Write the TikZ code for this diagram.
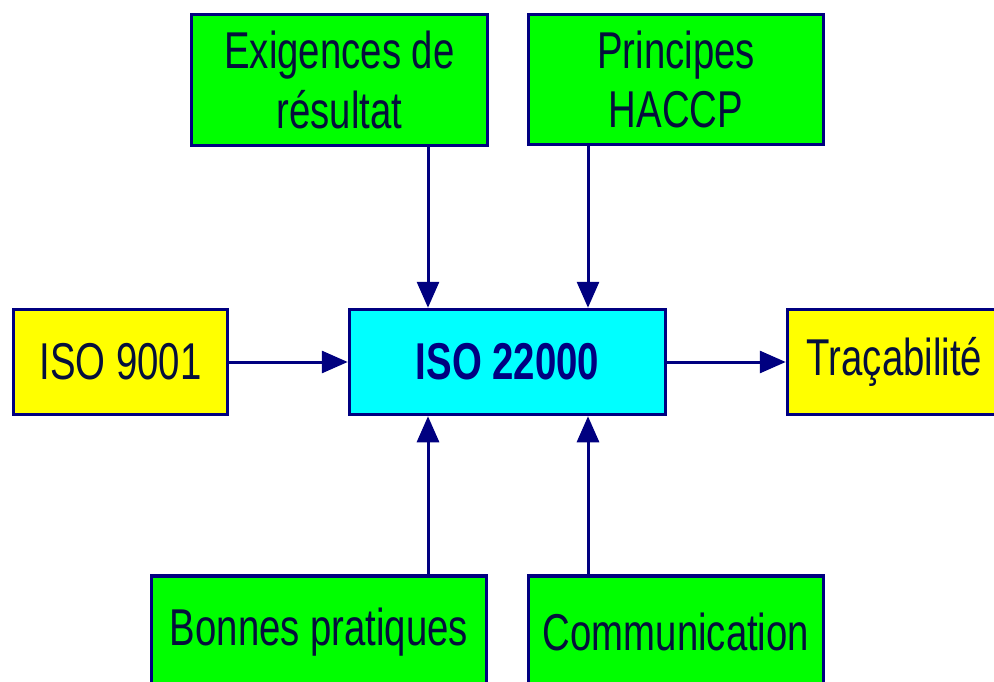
\documentclass[tikz,border=0pt]{standalone}
\usepackage{fontspec}
\setmainfont{Liberation Sans}[FakeStretch=0.74]
\usetikzlibrary{arrows.meta}
\definecolor{navyline}{RGB}{0,0,128}
\definecolor{txtcol}{RGB}{5,15,60}
\definecolor{boxgreen}{RGB}{0,255,0}
\definecolor{boxyellow}{RGB}{255,255,0}
\definecolor{boxcyan}{RGB}{0,255,255}
\tikzset{
  box/.style={draw=navyline, line width=3.5bp, rectangle, inner sep=0pt, align=center,
    text=txtcol, font=\fontsize{52}{60}\selectfont},
  greenbox/.style={box, fill=boxgreen},
  yellowbox/.style={box, fill=boxyellow},
  cyanbox/.style={box, fill=boxcyan},
  arr/.style={draw=navyline, line width=3bp, -{Triangle[length=26bp,width=22bp]}}
}
\begin{document}
\begin{tikzpicture}[x=1bp,y=-1bp]
\useasboundingbox (0,0) rectangle (994,682);
\clip (0,0) rectangle (994,682);
\fill[white] (0,0) rectangle (994,682);
\node[greenbox, minimum width=296bp, minimum height=131bp] (ex) at (339.5,80) {Exigences de\\résultat};
\node[greenbox, minimum width=295bp, minimum height=130bp] (hac) at (676,79.5) {Principes\\HACCP};
\node[yellowbox, minimum width=214bp, minimum height=105bp] (iso9) at (120.5,362) {ISO 9001};
\node[cyanbox, minimum width=316bp, minimum height=105bp, font=\fontsize{52}{60}\selectfont\bfseries, text=navyline] (iso22) at (507.5,362) {ISO 22000};
\node[yellowbox, minimum width=214bp, minimum height=105bp] (tra) at (894.5,362) {Traçabilité};
\node[greenbox, minimum width=335bp, minimum height=112bp] (bp) at (319,632) {Bonnes pratiques};
\node[greenbox, minimum width=295bp, minimum height=112bp] (com) at (676,632) {Communication};
\coordinate (xl) at (428,0);
\coordinate (xr) at (588,0);
\draw[arr] (ex.south -| xl) -- (iso22.north -| xl);
\draw[arr] (hac.south -| xr) -- (iso22.north -| xr);
\draw[arr] (bp.north -| xl) -- (iso22.south -| xl);
\draw[arr] (com.north -| xr) -- (iso22.south -| xr);
\draw[arr] (iso9.east) -- (iso22.west);
\draw[arr] (iso22.east) -- (tra.west);
\end{tikzpicture}
\end{document}
